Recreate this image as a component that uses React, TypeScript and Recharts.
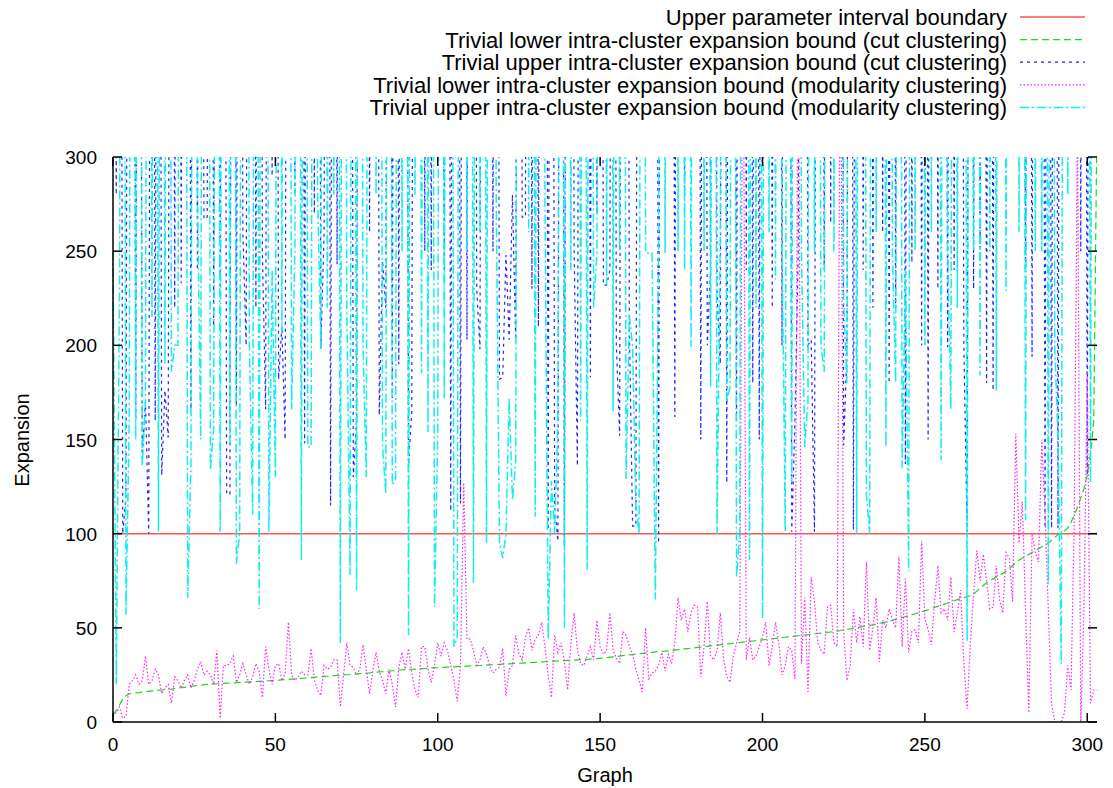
import React from 'react'
import { LineChart, Line, XAxis, YAxis, ReferenceLine, Legend } from 'recharts'

// graph index 0..303 (900 = far above the 300 clip)
const cutLower = [
  4, 6, 9, 12, 14, 15, 15.2, 15.5, 15.6, 15.9,
  16, 16.3, 16.5, 16.6, 16.9, 17, 17.2, 17.4, 17.5, 17.8,
  18, 18.2, 18.4, 18.6, 18.9, 19.2, 19.4, 19.5, 19.8, 20,
  20.1, 20.2, 20.3, 20.4, 20.5, 20.6, 20.7, 20.8, 20.9, 21,
  21.1, 21.2, 21.3, 21.4, 21.5, 21.6, 21.7, 21.8, 21.9, 22,
  22.1, 22.2, 22.4, 22.5, 22.6, 22.8, 22.9, 23, 23.2, 23.3,
  23.5, 23.6, 23.8, 23.9, 24, 24.2, 24.3, 24.4, 24.6, 24.7,
  24.8, 25, 25.1, 25.2, 25.4, 25.5, 25.7, 25.8, 26, 26.1,
  26.3, 26.4, 26.6, 26.7, 26.9, 27, 27.2, 27.3, 27.5, 27.6,
  27.8, 27.9, 28, 28.1, 28.2, 28.3, 28.4, 28.5, 28.6, 28.7,
  28.8, 28.9, 29, 29.1, 29.2, 29.3, 29.4, 29.5, 29.6, 29.7,
  29.8, 29.9, 30, 30, 30.1, 30.2, 30.3, 30.4, 30.5, 30.6,
  30.7, 30.8, 30.9, 31, 31.1, 31.2, 31.3, 31.4, 31.5, 31.6,
  31.7, 31.8, 31.9, 32, 32.1, 32.2, 32.3, 32.4, 32.5, 32.6,
  32.7, 32.8, 32.9, 33, 33.1, 33.2, 33.3, 33.4, 33.5, 33.6,
  33.8, 34, 34.2, 34.4, 34.6, 34.8, 35, 35.2, 35.4, 35.6,
  35.8, 36, 36.2, 36.4, 36.6, 36.8, 37, 37.2, 37.4, 37.5,
  37.6, 37.8, 38, 38.2, 38.4, 38.6, 38.8, 39, 39.2, 39.4,
  39.6, 39.8, 40, 40.2, 40.4, 40.6, 40.8, 41, 41.2, 41.4,
  41.6, 41.8, 42, 42.2, 42.4, 42.6, 42.8, 43, 43.2, 43.4,
  43.6, 43.8, 44, 44.2, 44.4, 44.6, 44.8, 45, 45.2, 45.4,
  45.6, 45.8, 46, 46.2, 46.4, 46.6, 46.8, 47, 47.2, 47.4,
  47.6, 47.8, 48, 48.3, 48.6, 48.9, 49.2, 49.5, 49.8, 50.1,
  50.4, 50.7, 51, 51.3, 51.6, 52, 52.4, 52.8, 53.2, 53.6,
  54, 54.5, 55, 55.5, 56, 56.5, 57, 57.5, 58, 58.5,
  59, 59.6, 60.2, 60.8, 61.4, 62, 62.6, 63.2, 63.8, 64.4,
  65, 65.5, 66, 66.5, 67, 68, 69.5, 71, 72.5, 74,
  75, 76, 77, 78, 79, 80, 81.5, 83, 84.5, 86,
  87, 88, 89, 90, 91, 92, 93, 94, 95, 96.5,
  98, 99.5, 100.5, 101.5, 103, 106, 110, 114, 119, 124,
  131, 142, 160, 320,
]

const cutUpper = [
  900, 280, 900, 100, 120, 900, 900, 160, 900, 140,
  170, 100, 900, 160, 900, 131, 176, 151, 900, 220,
  900, 233, 900, 900, 166, 900, 240, 900, 267, 268,
  900, 210, 900, 230, 900, 121, 121, 900, 168, 900,
  260, 200, 900, 900, 220, 900, 250, 166, 900, 290,
  900, 182, 210, 150, 900, 900, 280, 900, 900, 148,
  900, 900, 270, 900, 198, 260, 900, 115, 900, 243,
  900, 900, 900, 900, 130, 160, 900, 900, 900, 260,
  900, 900, 163, 245, 220, 900, 172, 900, 190, 900,
  900, 137, 165, 900, 900, 900, 250, 900, 240, 900,
  900, 900, 239, 900, 112, 900, 900, 116, 900, 203,
  900, 900, 230, 198, 900, 900, 900, 250, 900, 182,
  183, 248, 203, 280, 203, 900, 268, 268, 900, 230,
  900, 210, 900, 900, 102, 900, 115, 96, 900, 94,
  900, 900, 250, 136, 900, 900, 900, 183, 900, 270,
  900, 232, 232, 240, 900, 200, 152, 900, 900, 210,
  104, 104, 900, 900, 900, 900, 900, 900, 95, 900,
  900, 900, 900, 162, 900, 900, 280, 900, 900, 900,
  900, 150, 900, 200, 240, 900, 228, 190, 900, 127,
  900, 900, 160, 900, 900, 240, 900, 180, 900, 150,
  900, 900, 900, 220, 900, 900, 200, 900, 900, 101,
  160, 250, 900, 900, 200, 203, 101, 900, 900, 240,
  900, 265, 900, 900, 900, 147, 197, 900, 102, 900,
  900, 240, 900, 900, 220, 900, 900, 260, 900, 180,
  900, 220, 900, 900, 137, 900, 244, 900, 900, 200,
  900, 150, 900, 900, 230, 900, 900, 199, 900, 240,
  900, 900, 200, 101, 900, 230, 900, 250, 900, 180,
  900, 176, 900, 900, 900, 900, 900, 900, 900, 900,
  900, 240, 900, 194, 900, 900, 900, 103, 900, 103,
  900, 103, 900, 900, 900, 900, 900, 900, 250, 900,
  131, 900, 900, 900,
]

const modLower = [
  3, 5, 8, 2, 3, 20, 22, 25, 20, 22,
  35, 20, 22, 28, 25, 15, 18, 20, 10, 24,
  22, 18, 22, 25, 18, 22, 28, 32, 25, 27,
  25, 20, 38, 2, 30, 30, 31, 35, 21, 25,
  31, 25, 20, 24, 31, 27, 13, 40, 28, 20,
  30, 31, 22, 26, 53, 25, 22, 24, 27, 25,
  25, 39, 22, 17, 14, 30, 28, 29, 33, 33,
  8, 25, 42, 30, 29, 25, 28, 41, 28, 15,
  27, 37, 27, 22, 15, 28, 20, 8, 29, 37,
  28, 39, 26, 17, 13, 40, 40, 28, 21, 30,
  42, 35, 42, 38, 30, 22, 11, 30, 127, 44,
  44, 38, 30, 33, 40, 36, 30, 26, 28, 29,
  39, 14, 28, 30, 46, 36, 33, 45, 50, 38,
  44, 46, 53, 40, 25, 13, 46, 37, 42, 32,
  17, 42, 58, 38, 31, 30, 35, 40, 33, 54,
  40, 36, 38, 58, 38, 34, 31, 48, 46, 40,
  36, 28, 22, 16, 50, 23, 26, 27, 30, 37,
  27, 36, 31, 42, 66, 54, 60, 48, 58, 62,
  61, 24, 40, 64, 35, 33, 38, 58, 34, 24,
  21, 35, 42, 48, 400, 33, 45, 33, 35, 40,
  45, 53, 30, 40, 53, 42, 25, 30, 40, 38,
  23, 400, 31, 66, 16, 77, 64, 42, 38, 36,
  61, 62, 42, 40, 400, 48, 22, 30, 60, 42,
  56, 40, 85, 38, 50, 66, 32, 54, 50, 60,
  54, 50, 88, 40, 76, 37, 48, 49, 42, 96,
  55, 49, 41, 64, 83, 58, 60, 54, 77, 48,
  58, 70, 32, 7, 42, 68, 91, 75, 89, 75,
  60, 61, 83, 65, 58, 90, 87, 64, 153, 95,
  117, 60, 5, 100, 90, 85, 150, 110, 60, 10,
  0, 0, 0, 5, 30, 17, 110, 320, 0, 60,
  186, 10, 17, 17,
]

const modUpper = [
  250, 20, 230, 900, 57, 160, 900, 150, 900, 136,
  170, 900, 215, 900, 101, 900, 190, 900, 186, 200,
  200, 900, 900, 66, 136, 900, 280, 150, 900, 900,
  134, 156, 900, 101, 900, 900, 148, 900, 84, 100,
  900, 900, 200, 110, 900, 60, 900, 900, 101, 240,
  130, 900, 207, 900, 900, 166, 250, 900, 86, 900,
  146, 146, 900, 280, 198, 900, 220, 900, 280, 900,
  42, 900, 220, 78, 900, 70, 900, 200, 130, 900,
  900, 280, 900, 146, 121, 900, 126, 129, 900, 250,
  900, 46, 900, 280, 900, 185, 900, 154, 900, 61,
  154, 900, 172, 900, 900, 40, 45, 900, 900, 250,
  900, 74, 900, 260, 900, 95, 900, 900, 280, 96,
  87, 100, 172, 118, 138, 900, 900, 900, 260, 900,
  109, 900, 900, 280, 44, 128, 100, 162, 900, 50,
  900, 240, 900, 900, 160, 900, 81, 900, 220, 249,
  900, 900, 232, 900, 165, 900, 250, 900, 129, 216,
  200, 115, 100, 900, 249, 249, 249, 65, 249, 900,
  249, 900, 900, 900, 250, 900, 240, 900, 199, 900,
  900, 900, 250, 900, 178, 900, 100, 260, 900, 170,
  178, 900, 77, 101, 900, 900, 86, 900, 220, 900,
  55, 900, 260, 900, 235, 900, 260, 101, 900, 127,
  900, 900, 250, 146, 170, 900, 250, 900, 200, 186,
  900, 900, 250, 900, 900, 223, 180, 900, 900, 100,
  900, 900, 121, 100, 900, 260, 900, 900, 146, 900,
  250, 180, 900, 135, 240, 80, 900, 250, 900, 900,
  200, 900, 260, 900, 900, 139, 900, 250, 166, 900,
  220, 900, 900, 43, 900, 250, 900, 184, 900, 900,
  250, 900, 176, 900, 900, 229, 900, 900, 900, 260,
  900, 107, 900, 900, 250, 900, 250, 900, 73, 900,
  199, 150, 31, 900, 280, 900, 900, 900, 900, 900,
  900, 127, 900, 900,
]

const upperBoundary = 100
const xTicks = [0, 50, 100, 150, 200, 250, 300]
const yTicks = [0, 50, 100, 150, 200, 250, 300]

const FONT = '"Liberation Sans", Arial, Helvetica, sans-serif'
const PLOT = { left: 113, right: 1097, top: 157, bottom: 722 }

const series = [
  { key: 'upper', name: 'Upper parameter interval boundary', color: '#ff5555', dash: undefined, width: 1.5 },
  { key: 'cutLower', name: 'Trivial lower intra-cluster expansion bound (cut clustering)', color: '#11dd11', dash: '7 4', width: 1.2 },
  { key: 'cutUpper', name: 'Trivial upper intra-cluster expansion bound (cut clustering)', color: '#2222ff', dash: '3 4', width: 1.2 },
  { key: 'modLower', name: 'Trivial lower intra-cluster expansion bound (modularity clustering)', color: '#ff22ff', dash: '1.5 2', width: 1.2 },
  { key: 'modUpper', name: 'Trivial upper intra-cluster expansion bound (modularity clustering)', color: '#11eeee', dash: '9 3 2 3', width: 1.5 },
]

const rows = cutLower.map((v, i) => ({
  i,
  cutLower: v,
  cutUpper: cutUpper[i],
  modLower: modLower[i],
  modUpper: modUpper[i],
}))

function XTick(props: any) {
  const { x, payload } = props
  return (
    <g>
      <line x1={x} x2={x} y1={PLOT.bottom} y2={PLOT.bottom - 9} stroke="#000" strokeWidth={1.5} />
      <line x1={x} x2={x} y1={PLOT.top} y2={PLOT.top + 9} stroke="#000" strokeWidth={1.5} />
      <text x={x} y={PLOT.bottom + 29} textAnchor="middle" fontSize={19} fontFamily={FONT} fill="#000">
        {payload.value}
      </text>
    </g>
  )
}

function YTick(props: any) {
  const { y, payload } = props
  return (
    <g>
      <line x1={PLOT.left} x2={PLOT.left + 9} y1={y} y2={y} stroke="#000" strokeWidth={1.5} />
      <line x1={PLOT.right - 9} x2={PLOT.right} y1={y} y2={y} stroke="#000" strokeWidth={1.5} />
      <text x={PLOT.left - 16} y={y + 7} textAnchor="end" fontSize={19} fontFamily={FONT} fill="#000">
        {payload.value}
      </text>
    </g>
  )
}

function Key() {
  return (
    <svg width={1113} height={125}>
      {series.map((s, k) => {
        const cy = 17 + k * 22.6
        return (
          <g key={s.key}>
            <text x={1007} y={cy + 8} textAnchor="end" fontSize={22} fontFamily={FONT} fill="#000">
              {s.name}
            </text>
            <line x1={1020} x2={1085} y1={cy} y2={cy} stroke={s.color} strokeWidth={s.width} strokeDasharray={s.dash} />
          </g>
        )
      })}
    </svg>
  )
}

export default function App() {
  return (
    <div style={{ position: 'absolute', left: 0, top: 0, background: '#fff' }}>
      <LineChart width={1113} height={788} data={rows} margin={{ top: 157, right: 16, bottom: 26, left: 0 }}>
        <XAxis
          dataKey="i"
          type="number"
          domain={[0, 303]}
          ticks={xTicks}
          height={40}
          tickLine={false}
          tick={<XTick />}
          axisLine={{ stroke: '#000', strokeWidth: 1.5 }}
        />
        <XAxis xAxisId="top" dataKey="i" type="number" domain={[0, 303]} orientation="top" height={0} tick={false} tickLine={false} axisLine={{ stroke: '#000', strokeWidth: 1.5 }} />
        <YAxis
          type="number"
          domain={[0, 300]}
          allowDataOverflow
          ticks={yTicks}
          width={113}
          tickLine={false}
          tick={<YTick />}
          axisLine={{ stroke: '#000', strokeWidth: 1.5 }}
        />
        <YAxis yAxisId="r" orientation="right" type="number" domain={[0, 300]} width={0} tick={false} tickLine={false} axisLine={{ stroke: '#000', strokeWidth: 1.5 }} />
        <ReferenceLine y={upperBoundary} stroke={series[0].color} strokeWidth={series[0].width} />
        {series.slice(1).map((s) => (
          <Line
            key={s.key}
            type="linear"
            dataKey={s.key}
            name={s.name}
            stroke={s.color}
            strokeWidth={s.width}
            strokeDasharray={s.dash}
            dot={false}
            activeDot={false}
            isAnimationActive={false}
          />
        ))}
        <Legend
          layout="vertical"
          align="center"
          verticalAlign="middle"
          wrapperStyle={{ left: 0, top: 0, width: 1113, height: 125 }}
          content={<Key />}
        />
        <text x={22} y={440} transform="rotate(-90, 22, 440)" textAnchor="middle" dominantBaseline="central" fontSize={20} fontFamily={FONT}>
          Expansion
        </text>
        <text x={605} y={782} textAnchor="middle" fontSize={20} fontFamily={FONT}>
          Graph
        </text>
      </LineChart>
    </div>
  )
}
